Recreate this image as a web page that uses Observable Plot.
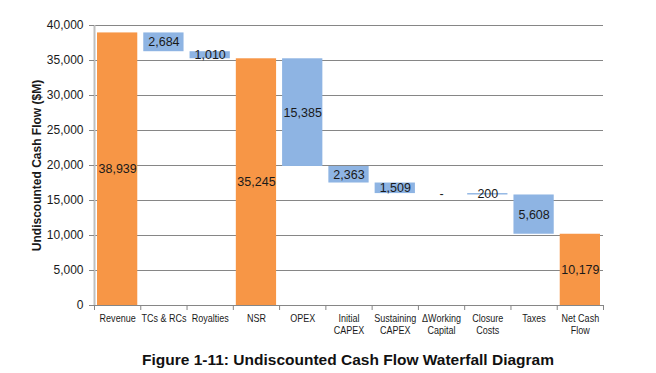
<!DOCTYPE html>
<html>
<head>
<meta charset="utf-8">
<script src="https://cdn.jsdelivr.net/npm/d3@7"></script>
<script src="https://cdn.jsdelivr.net/npm/@observablehq/plot@0.6"></script>
<style>
  body { margin: 0; background: #fff; font-family: "Liberation Sans", Arial, sans-serif; }
  #chart svg { display: block; }
  #caption { width: 656px; text-align: center; font: bold 15.5px "Liberation Sans", Arial, sans-serif; color: #111; margin-top: 11px; margin-left: 20px; }
</style>
</head>
<body>
<div id="chart"></div>
<div id="caption">Figure 1-11: Undiscounted Cash Flow Waterfall Diagram</div>
<script>
const categories = ["Revenue", "TCs & RCs", "Royalties", "NSR", "OPEX", "Initial\nCAPEX", "Sustaining\nCAPEX", "ΔWorking\nCapital", "Closure\nCosts", "Taxes", "Net Cash\nFlow"];
const values = [38939, -2684, -1010, 35245, -15385, -2363, -1509, 0, -200, -5608, 10179];
const kinds = ["total", "step", "step", "total", "step", "step", "step", "step", "step", "step", "total"];
const valueLabels = ["38,939", "2,684", "1,010", "35,245", "15,385", "2,363", "1,509", "-", "200", "5,608", "10,179"];
const yTicks = [0, 5000, 10000, 15000, 20000, 25000, 30000, 35000, 40000];
const yTitle = "Undiscounted Cash Flow ($M)";

let running = 0;
const data = categories.map((c, i) => {
  let y1, y2;
  if (kinds[i] === "total") { y1 = 0; y2 = values[i]; running = values[i]; }
  else { y1 = running; y2 = running + values[i]; running = y2; }
  return { i, i1: i + 1, xc: i + 0.5, y1, y2, ym: (y1 + y2) / 2, label: valueLabels[i], kind: kinds[i] };
});

const font = '"Liberation Sans", Arial, sans-serif';

const chart = Plot.plot({
  width: 656,
  height: 340,
  marginLeft: 94,
  marginRight: 53,
  marginTop: 25,
  marginBottom: 35,
  style: { fontFamily: font, color: "#1a1a1a", background: "#fff" },
  x: { type: "linear", domain: [0, categories.length], label: null },
  y: { domain: [0, 40000], label: null },
  marks: [
    Plot.gridY(yTicks.filter(d => d > 0), { stroke: "#868686", strokeOpacity: 1 }),
    Plot.rectY(data, {
      x1: "i", x2: "i1", y1: "y1", y2: "y2",
      fill: d => d.kind === "total" ? "#F79646" : "#8EB4E3",
      insetLeft: 3, insetRight: 3
    }),
    Plot.text(data, { x: "xc", y: "ym", text: "label", fontSize: 12.5, fill: "#1a1a1a" }),
    Plot.ruleY([0], { stroke: "#868686" }),
    Plot.ruleX([0], { stroke: "#BFBFBF", strokeWidth: 2 }),
    Plot.axisY({ ticks: yTicks, tickFormat: d3.format(","), tickSize: 5, tickPadding: 6, fontSize: 12, label: null, stroke: "#868686" }),
    Plot.axisX({ ticks: d3.range(0, categories.length + 1), tickFormat: () => "", tickSize: 5, label: null, stroke: "#868686" }),
    Plot.axisX({ ticks: d3.range(categories.length).map(i => i + 0.5), tickFormat: v => categories[Math.floor(v)], tickSize: 0, tickPadding: 8, fontSize: 11, lineHeight: 1.1, label: null }),
    Plot.text([yTitle], { frameAnchor: "left", textAnchor: "middle", rotate: -90, dx: -57, fontSize: 12, fontWeight: "bold", fill: "#1a1a1a" })
  ]
});
// condense the category labels horizontally (narrow-font look)
chart.querySelectorAll('g[aria-label="x-axis tick label"] text').forEach(t => {
  const tr = t.getAttribute("transform") || "";
  t.setAttribute("transform", tr + " scale(0.82,1)");
});
document.getElementById("chart").appendChild(chart);
</script>
</body>
</html>
